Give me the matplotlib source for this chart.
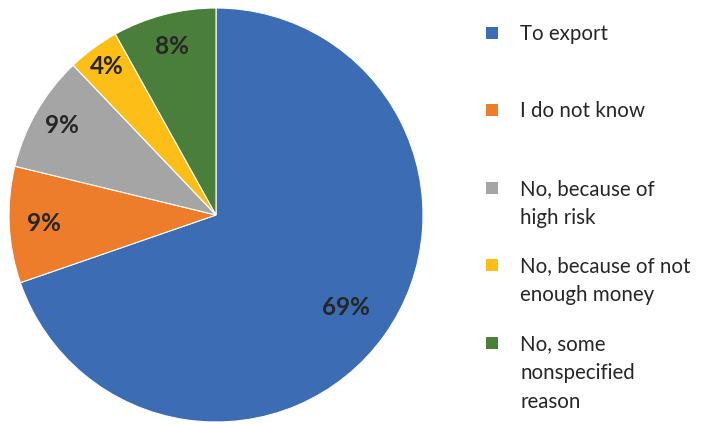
import numpy as np
import matplotlib.pyplot as plt
from matplotlib.patches import Rectangle

plt.rcParams['font.family'] = ['Lato', 'DejaVu Sans']

labels = ['To export', 'I do not know', 'No, because of\nhigh risk',
          'No, because of not\nenough money', 'No, some\nnonspecified\nreason']
values = [69, 9, 9, 4, 8]
colors = ['#3C6CB4', '#ED7D2B', '#A5A5A5', '#FDBF17', '#4A7E3B']

W, H = 705, 424
fig = plt.figure(figsize=(W / 100, H / 100), dpi=100)

# pie occupies a square box on the left
cx, cy, r = 216, 215, 207
ax = fig.add_axes([(cx - r) / W, (H - cy - r) / H, 2 * r / W, 2 * r / H])
total = sum(values)
wedges, _, pcts = ax.pie(values, colors=colors, startangle=90, counterclock=False,
                         radius=1, autopct=lambda p: f'{round(p * total / 100):.0f}%',
                         pctdistance=0.8,
                         wedgeprops=dict(edgecolor='white', linewidth=0.8),
                         textprops=dict(fontsize=17.5, fontweight='bold', color='#262626'))
# push the small-slice labels a bit further out
label_r = [0.77, 0.83, 0.86, 0.89, 0.84]
for w, t, d in zip(wedges, pcts, label_r):
    mid = np.deg2rad((w.theta1 + w.theta2) / 2)
    t.set_position((d * np.cos(mid), d * np.sin(mid)))
ax.set_xlim(-1, 1)
ax.set_ylim(-1, 1)
ax.set_aspect('equal')
ax.axis('off')

# legend drawn by hand: square markers + wrapped labels, one text per line
y_rows = [33, 110, 188, 265, 343]
line_gap = 29
for lab, col, yc in zip(labels, colors, y_rows):
    s = 12
    fig.add_artist(Rectangle((486 / W, (H - yc - s / 2) / H), s / W, s / H,
                             transform=fig.transFigure, facecolor=col, edgecolor='none'))
    for i, line in enumerate(lab.split('\n')):
        fig.text(520 / W, (H - yc - 7 - i * line_gap) / H, line, fontsize=14.8,
                 color='#262626', va='baseline', ha='left')

fig.savefig('out.png', dpi=100)
